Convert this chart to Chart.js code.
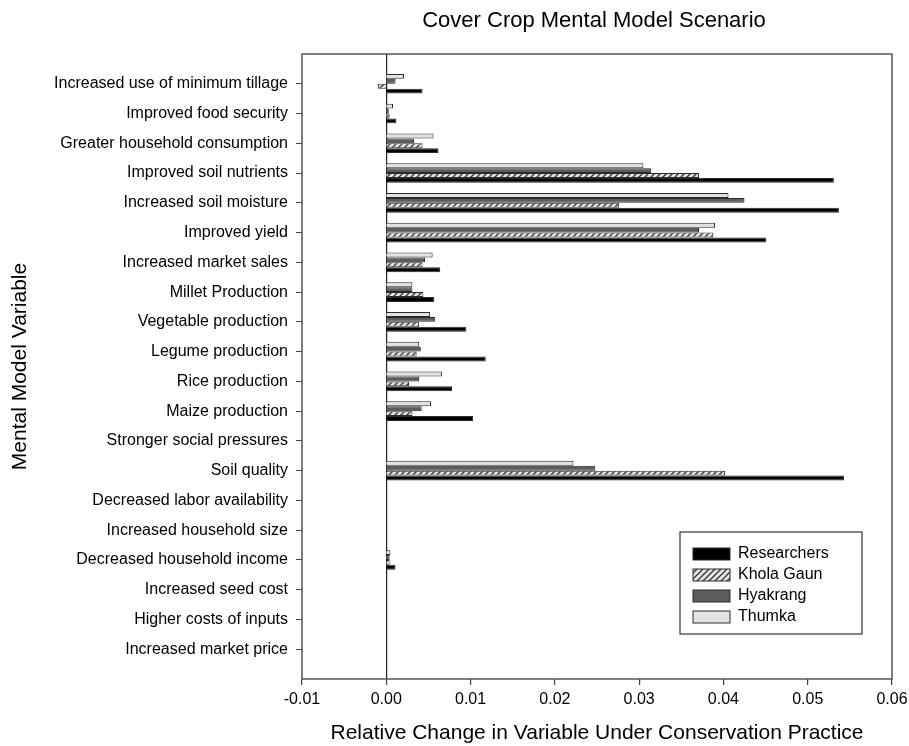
<!DOCTYPE html>
<html>
<head>
<meta charset="utf-8">
<title>Cover Crop Mental Model Scenario</title>
<script src="https://cdn.jsdelivr.net/npm/chart.js@4.4.0/dist/chart.umd.min.js"></script>
<style>
    html, body { margin: 0; padding: 0; background: #fff; }
</style>
</head>
<body>
<canvas id="chart" width="909" height="746"></canvas>
<script>
// categories, top to bottom
const categories = [
    'Increased use of minimum tillage',
    'Improved food security',
    'Greater household consumption',
    'Improved soil nutrients',
    'Increased soil moisture',
    'Improved yield',
    'Increased market sales',
    'Millet Production',
    'Vegetable production',
    'Legume production',
    'Rice production',
    'Maize production',
    'Stronger social pressures',
    'Soil quality',
    'Decreased labor availability',
    'Increased household size',
    'Decreased household income',
    'Increased seed cost',
    'Higher costs of inputs',
    'Increased market price'
];

// values
const researchers = [0.0043, 0.0012, 0.0062, 0.0531, 0.0537, 0.0451, 0.0064, 0.0057, 0.0095, 0.0118, 0.0078, 0.0103, 0, 0.0543, 0, 0, 0.0011, 0, 0, 0];
const kholaGaun   = [-0.0010, 0.0004, 0.0043, 0.0371, 0.0276, 0.0388, 0.0043, 0.0044, 0.0039, 0.0036, 0.0027, 0.0031, 0, 0.0402, 0, 0, 0.0004, 0, 0, 0];
const hyakrang    = [0.0011, 0.0003, 0.0033, 0.0314, 0.0425, 0.0371, 0.0046, 0.0031, 0.0058, 0.0041, 0.0039, 0.0042, 0, 0.0248, 0, 0, 0.0004, 0, 0, 0];
const thumka      = [0.0021, 0.0008, 0.0056, 0.0305, 0.0406, 0.0390, 0.0055, 0.0031, 0.0052, 0.0039, 0.0066, 0.0053, 0, 0.0222, 0, 0, 0.0005, 0, 0, 0];

const xMin = -0.01;
const xMax = 0.06;
const xStep = 0.01;

const FONT = '"Liberation Sans", Arial, sans-serif';
Chart.defaults.font.family = FONT;
Chart.defaults.color = '#000';

// diagonal hatch for Khola Gaun
function makeHatch() {
    const c = document.createElement('canvas');
    c.width = 6; c.height = 6;
    const g = c.getContext('2d');
    g.fillStyle = '#e4e4e4';
    g.fillRect(0, 0, 6, 6);
    g.strokeStyle = '#3a3a3a';
    g.lineWidth = 1.4;
    g.beginPath();
    g.moveTo(0, 6); g.lineTo(6, 0);
    g.moveTo(-3, 3); g.lineTo(3, -3);
    g.moveTo(3, 9); g.lineTo(9, 3);
    g.stroke();
    return g.createPattern(c, 'repeat');
}
const hatch = makeHatch();

const toPoints = arr => arr.map((v, i) => ({ x: v, y: i }));

function series(label, values, fill) {
    return {
        label: label,
        data: toPoints(values),
        backgroundColor: fill,
        borderColor: '#2a2a2a',
        borderWidth: 1,
        barPercentage: 1.0,
        categoryPercentage: 0.66
    };
}

// title centred over the plot box, plus the box itself
const framePlugin = {
    id: 'frame',
    afterDraw(chart) {
        const { ctx, chartArea: a } = chart;
        ctx.save();
        ctx.strokeStyle = '#555';
        ctx.lineWidth = 1.5;
        ctx.strokeRect(a.left, a.top, a.right - a.left, a.bottom - a.top);
        ctx.fillStyle = '#000';
        ctx.font = '22px ' + FONT;
        ctx.textAlign = 'center';
        ctx.textBaseline = 'middle';
        ctx.fillText('Cover Crop Mental Model Scenario', (a.left + a.right) / 2 - 3, 21);
        ctx.restore();
    }
};

// legend drawn inside the plot, lower right
const boxLegend = {
    id: 'boxLegend',
    afterDraw(chart) {
        const ctx = chart.ctx;
        const sets = chart.data.datasets.slice().reverse();
        const x0 = 680, y0 = 532, w = 182, h = 102;
        ctx.save();
        ctx.fillStyle = '#fff';
        ctx.fillRect(x0, y0, w, h);
        ctx.strokeStyle = '#333';
        ctx.lineWidth = 1.2;
        ctx.strokeRect(x0, y0, w, h);
        ctx.font = '16px ' + FONT;
        ctx.textBaseline = 'middle';
        sets.forEach((ds, i) => {
            const cy = y0 + 22 + i * 21;
            ctx.fillStyle = ds.backgroundColor;
            ctx.fillRect(x0 + 13, cy - 6, 37, 12);
            ctx.strokeStyle = '#2a2a2a';
            ctx.lineWidth = 1;
            ctx.strokeRect(x0 + 13, cy - 6, 37, 12);
            ctx.fillStyle = '#000';
            ctx.fillText(ds.label, x0 + 58, cy);
        });
        ctx.restore();
    }
};

new Chart(document.getElementById('chart'), {
    type: 'bar',
    data: {
        datasets: [
            series('Thumka', thumka, '#e2e2e2'),
            series('Hyakrang', hyakrang, '#5c5c5c'),
            series('Khola Gaun', kholaGaun, hatch),
            series('Researchers', researchers, '#000')
        ]
    },
    options: {
        indexAxis: 'y',
        responsive: false,
        animation: false,
        layout: { padding: { left: 0, right: 17, top: 54, bottom: 0 } },
        plugins: {
            legend: { display: false },
            tooltip: { enabled: false },
            title: { display: false }
        },
        scales: {
            x: {
                type: 'linear',
                min: xMin,
                max: xMax,
                border: { display: false },
                grid: {
                    color: c => (c.tick && Math.abs(c.tick.value) < 1e-9) ? '#222' : 'rgba(0,0,0,0)',
                    lineWidth: 1.2,
                    tickColor: '#444',
                    tickLength: 6
                },
                ticks: {
                    stepSize: xStep,
                    padding: 5,
                    font: { size: 16 },
                    callback: v => Math.abs(v) < 1e-9 ? '0.00' : v.toFixed(2)
                },
                title: {
                    display: true,
                    text: 'Relative Change in Variable Under Conservation Practice',
                    font: { size: 21 },
                    padding: { top: 4, bottom: 0 }
                },
                afterFit: s => {
                    s.height = 67;
                    s.paddingLeft = 0;
                    s.paddingRight = 0;
                }
            },
            y: {
                type: 'linear',
                reverse: true,
                offset: false,
                min: -1,
                max: categories.length,
                border: { display: false },
                grid: {
                    offset: false,
                    drawOnChartArea: false,
                    tickColor: '#444',
                    tickLength: 6
                },
                ticks: {
                    stepSize: 1,
                    padding: 8,
                    font: { size: 16 },
                    callback: v => categories[v] || ''
                },
                afterBuildTicks: s => {
                    s.ticks = s.ticks.filter(t => Number.isInteger(t.value) && t.value >= 0 && t.value < categories.length);
                },
                title: {
                    display: true,
                    text: 'Mental Model Variable',
                    font: { size: 21 },
                    padding: { top: 8, bottom: 4 }
                },
                afterFit: s => { s.width = 302; }
            }
        }
    },
    plugins: [framePlugin, boxLegend]
});
</script>
</body>
</html>
